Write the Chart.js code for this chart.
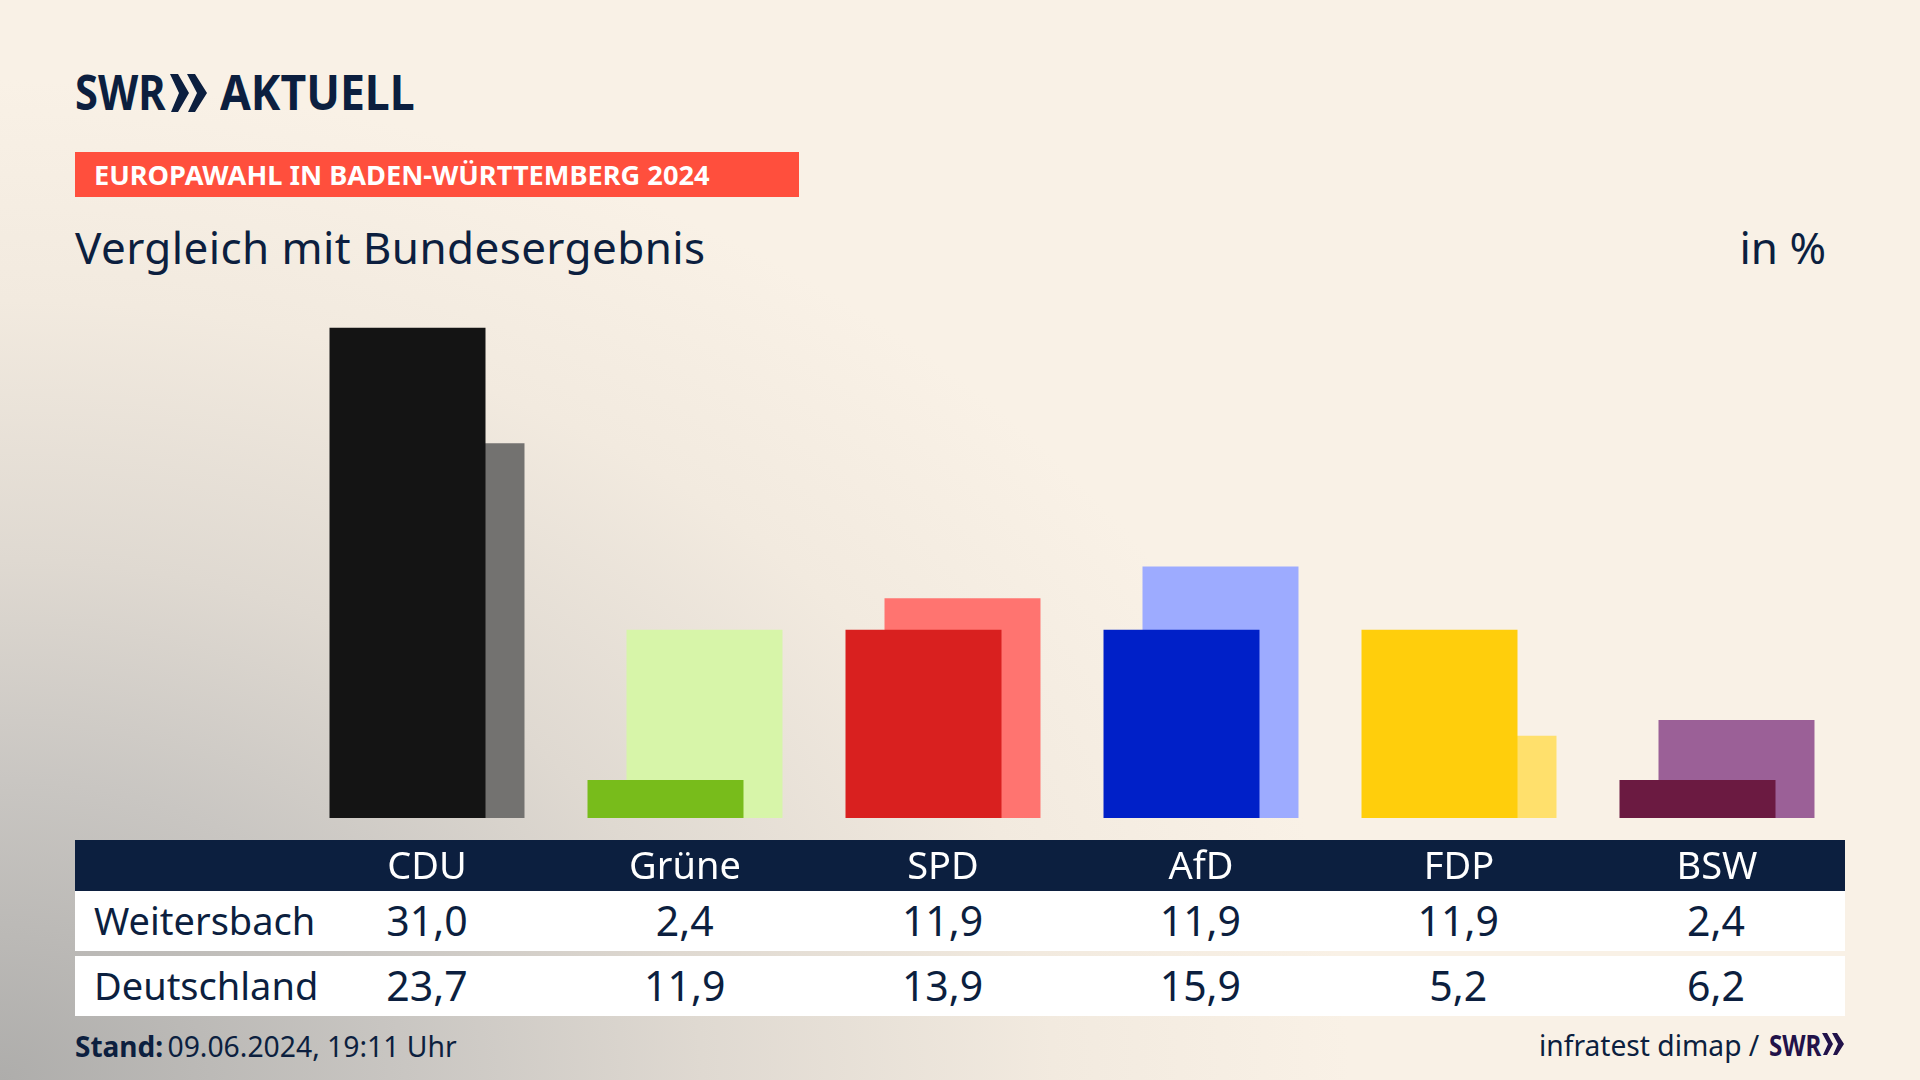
<!DOCTYPE html>
<html lang="de">
<head>
<meta charset="utf-8">
<title>Europawahl Vergleich</title>
<script src="https://cdn.jsdelivr.net/npm/chart.js@4"></script>
<style>
  html, body { margin: 0; padding: 0; }
  body {
    width: 1920px; height: 1080px; overflow: hidden; position: relative;
    font-family: "Noto Sans", sans-serif; color: #0c1f3f;
    background:
      radial-gradient(ellipse 1350px 1000px at 0% 100%, #aeadab 0%, #c9c6c2 30%, #dfd9d1 52%, #f2eadf 78%, #f9f1e6 100%);
    background-color: #f9f1e6;
  }
  .abs { position: absolute; white-space: nowrap; }
  #logo1, #logo2 { font-weight: 700; font-size: 49px; line-height: 60px; top: 61px; transform-origin: left center; }
  #logo1 { left: 75px; transform: scaleX(0.85); }
  #logo2 { left: 220px; transform: scaleX(0.91); }
  #banner { left: 75px; top: 152px; width: 724px; height: 45px; background: #ff4f3d; }
  #bannerText { left: 94px; top: 152px; line-height: 45px; font-size: 27.2px; font-weight: 700; color: #fff; }
  #title { left: 75px; top: 217px; font-size: 44px; line-height: 60px; letter-spacing: 0.4px; }
  #unit { right: 94px; top: 217px; font-size: 44px; line-height: 60px; }
  #band { left: 75px; top: 840px; width: 1770px; height: 51px; background: #0c1f3f; }
  #chartBox { position: absolute; left: 298px; top: 312px; width: 1548px; height: 578px; }
  .row { position: absolute; left: 75px; width: 1770px; height: 60px; background: #fff; display: flex; font-size: 38px; line-height: 58px; }
  .row .name { width: 223px; box-sizing: border-box; padding-left: 19px; }
  .row .val { width: 258px; text-align: center; font-size: 41px; }
  #stand { left: 75px; top: 1026px; font-size: 28.3px; line-height: 40px; }
  #stand b { margin-right: -3px; font-size: 28px; }
  #source { left: 1539px; top: 1025px; font-size: 28.2px; line-height: 40px; }
  #swrSmall { left: 1769px; top: 1025px; font-size: 28px; line-height: 40px; font-weight: 700; color: #22124a; transform-origin: left center; transform: scaleX(0.86); }
</style>
</head>
<body>
<div class="abs" id="logo1">SWR</div>
<svg class="abs" style="left:170px;top:74px" width="37" height="38"><polygon fill="#0c1f3f" points="0,0 8,0 19,19 8,38 1,38 9,19"/><polygon fill="#0c1f3f" points="17,0 25,0 37,19 25,38 18,38 27,19"/></svg>
<div class="abs" id="logo2">AKTUELL</div>
<div class="abs" id="banner"></div>
<div class="abs" id="bannerText">EUROPAWAHL IN BADEN-WÜRTTEMBERG 2024</div>
<div class="abs" id="title">Vergleich mit Bundesergebnis</div>
<div class="abs" id="unit">in %</div>
<div class="abs" id="band"></div>
<div id="chartBox"><canvas id="chart" width="1548" height="578"></canvas></div>
<div id="rows"></div>
<div class="abs" id="stand"><b>Stand:</b> 09.06.2024, 19:11 Uhr</div>
<div class="abs" id="source">infratest dimap /</div>
<div class="abs" id="swrSmall">SWR</div>
<svg class="abs" style="left:1822px;top:1033px" width="22" height="22"><polygon fill="#22124a" points="0,0 5,0 11,11 5,22 1,22 6,11"/><polygon fill="#22124a" points="10,0 15,0 22,11 15,22 11,22 16,11"/></svg>

<script>
const parties = ['CDU', 'Grüne', 'SPD', 'AfD', 'FDP', 'BSW'];
const weitersbach = [31.0, 2.4, 11.9, 11.9, 11.9, 2.4];
const deutschland = [23.7, 11.9, 13.9, 15.9, 5.2, 6.2];
const strongColors = ['#141414', '#78bc1b', '#d9201f', '#0020c8', '#ffce0c', '#6b1a41'];
const lightColors = ['#737270', '#d7f5a9', '#ff7470', '#9dabff', '#ffe06c', '#9b6097'];

// value rows under the chart
function addRow(name, values, top) {
  const row = document.createElement('div');
  row.className = 'row';
  row.style.top = top + 'px';
  let html = '<div class="name">' + name + '</div>';
  values.forEach(v => {
    html += '<div class="val">' + v.toFixed(1).replace('.', ',') + '</div>';
  });
  row.innerHTML = html;
  document.getElementById('rows').appendChild(row);
}
addRow('Weitersbach', weitersbach, 891);
addRow('Deutschland', deutschland, 956);

new Chart(document.getElementById('chart').getContext('2d'), {
  type: 'bar',
  data: {
    labels: parties,
    datasets: [
      { label: 'Weitersbach', data: weitersbach, backgroundColor: strongColors },
      { label: 'Deutschland', data: deutschland, backgroundColor: lightColors }
    ]
  },
  options: {
    responsive: false,
    animation: false,
    devicePixelRatio: 1,
    layout: { padding: 0 },
    // slots are 39px apart, bars are wider than a slot so they overlap
    categoryPercentage: 0.3023,
    barPercentage: 4.0,
    plugins: { legend: { display: false }, tooltip: { enabled: false } },
    scales: {
      x: {
        grid: { display: false, drawTicks: false },
        border: { display: false },
        ticks: {
          color: '#ffffff',
          padding: 27,
          maxRotation: 0,
          autoSkip: false,
          font: { family: '"Noto Sans"', size: 38 }
        },
        afterFit: scale => { scale.height = 72; }
      },
      y: { display: false, min: 0, max: 32 }
    }
  }
});
</script>
</body>
</html>
